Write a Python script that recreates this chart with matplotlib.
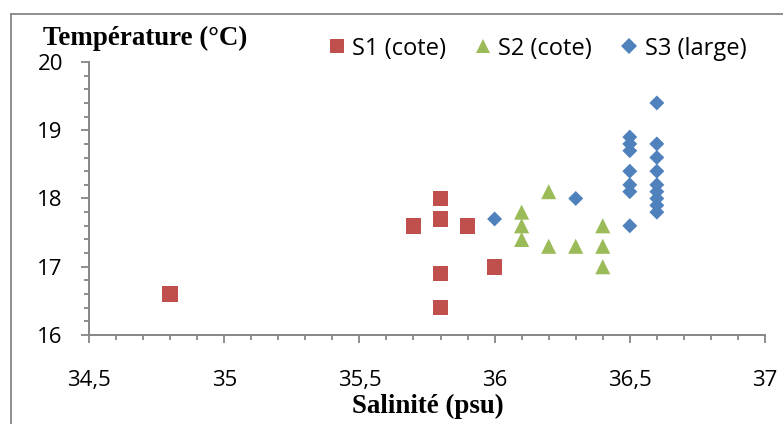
import matplotlib
matplotlib.use("Agg")
import matplotlib.pyplot as plt
from matplotlib.ticker import MultipleLocator, FuncFormatter
from matplotlib.lines import Line2D

# Station data: salinity (psu) vs temperature (°C)
s1_sal = [34.8, 35.7, 35.8, 35.8, 35.8, 35.8, 35.9, 36.0]
s1_temp = [16.6, 17.6, 18.0, 17.7, 16.9, 16.4, 17.6, 17.0]

s2_sal = [36.1, 36.1, 36.1, 36.2, 36.2, 36.3, 36.4, 36.4, 36.4]
s2_temp = [17.8, 17.6, 17.4, 18.1, 17.3, 17.3, 17.6, 17.3, 17.0]

s3_sal = [36.0, 36.3,
          36.5, 36.5, 36.5, 36.5, 36.5, 36.5, 36.5,
          36.6, 36.6, 36.6, 36.6, 36.6, 36.6, 36.6, 36.6, 36.6]
s3_temp = [17.7, 18.0,
           18.9, 18.8, 18.7, 18.4, 18.2, 18.1, 17.6,
           19.4, 18.8, 18.6, 18.4, 18.2, 18.1, 18.0, 17.9, 17.8]

series_names = ["S1 (cote)", "S2 (cote)", "S3 (large)"]
x_ticks = [34.5, 35, 35.5, 36, 36.5, 37]
y_ticks = [16, 17, 18, 19, 20]

RED = "#C0504D"
GREEN = "#9BBB59"
BLUE = "#4F81BD"
AXIS = "#868686"

fig = plt.figure(figsize=(7.83, 4.24), dpi=100)
ax = fig.add_axes([0.1137, 0.2099, 0.977 - 0.1137, 0.8538 - 0.2099])

ax.scatter(s1_sal, s1_temp, marker="s", s=125, color=RED, edgecolors="none", zorder=3)
ax.scatter(s2_sal, s2_temp, marker="^", s=118, color=GREEN, edgecolors="none", zorder=3)
ax.scatter(s3_sal, s3_temp, marker="D", s=58, color=BLUE, edgecolors="none", zorder=3)

ax.set_xlim(34.5, 37)
ax.set_ylim(16, 20)
ax.set_xticks(x_ticks)
ax.set_yticks(y_ticks)
ax.xaxis.set_minor_locator(MultipleLocator(0.1))
ax.yaxis.set_minor_locator(MultipleLocator(0.2))

# French decimal comma on the salinity axis
fmt = FuncFormatter(lambda v, p: ("%g" % v).replace(".", ","))
ax.xaxis.set_major_formatter(fmt)

for side in ("top", "right"):
    ax.spines[side].set_visible(False)
for side in ("left", "bottom"):
    ax.spines[side].set_color(AXIS)
    ax.spines[side].set_linewidth(1.4)

tick_font = "Open Sans"
ax.tick_params(axis="both", which="major", direction="out", length=5.8, width=1.3,
               color=AXIS, labelsize=16, labelcolor="black")
ax.tick_params(axis="both", which="minor", direction="out", length=3.6, width=1.3, color=AXIS)
ax.tick_params(axis="x", which="major", pad=19.6)
ax.tick_params(axis="y", which="major", pad=13)
for lab in ax.get_xticklabels() + ax.get_yticklabels():
    lab.set_fontfamily(tick_font)

fig.text(0.055, 0.894, "Température (°C)", fontfamily="Liberation Serif",
         fontweight="bold", fontsize=19.4, ha="left", va="baseline")
fig.text(0.546, 0.026, "Salinité (psu)", fontfamily="Liberation Serif",
         fontweight="bold", fontsize=19.4, ha="center", va="baseline")

handles = [
    Line2D([], [], linestyle="none", marker="s", markersize=10, color=RED, markeredgewidth=0),
    Line2D([], [], linestyle="none", marker="^", markersize=10.5, color=GREEN, markeredgewidth=0),
    Line2D([], [], linestyle="none", marker="D", markersize=8, color=BLUE, markeredgewidth=0),
]
fig.legend(handles, series_names, loc="center left", bbox_to_anchor=(0.4074, 0.885),
           ncol=3, frameon=False, prop={"family": tick_font, "size": 17},
           handlelength=0.7, handletextpad=0.3, columnspacing=1.22, borderaxespad=0)

# Chart area frame (left and top edges)
fig.add_artist(Line2D([0.0135, 0.0135], [0.0, 0.968], transform=fig.transFigure,
                      color=AXIS, linewidth=1.3))
fig.add_artist(Line2D([0.0135, 1.0], [0.968, 0.968], transform=fig.transFigure,
                      color=AXIS, linewidth=1.3))

fig.savefig("out.png", dpi=100)
